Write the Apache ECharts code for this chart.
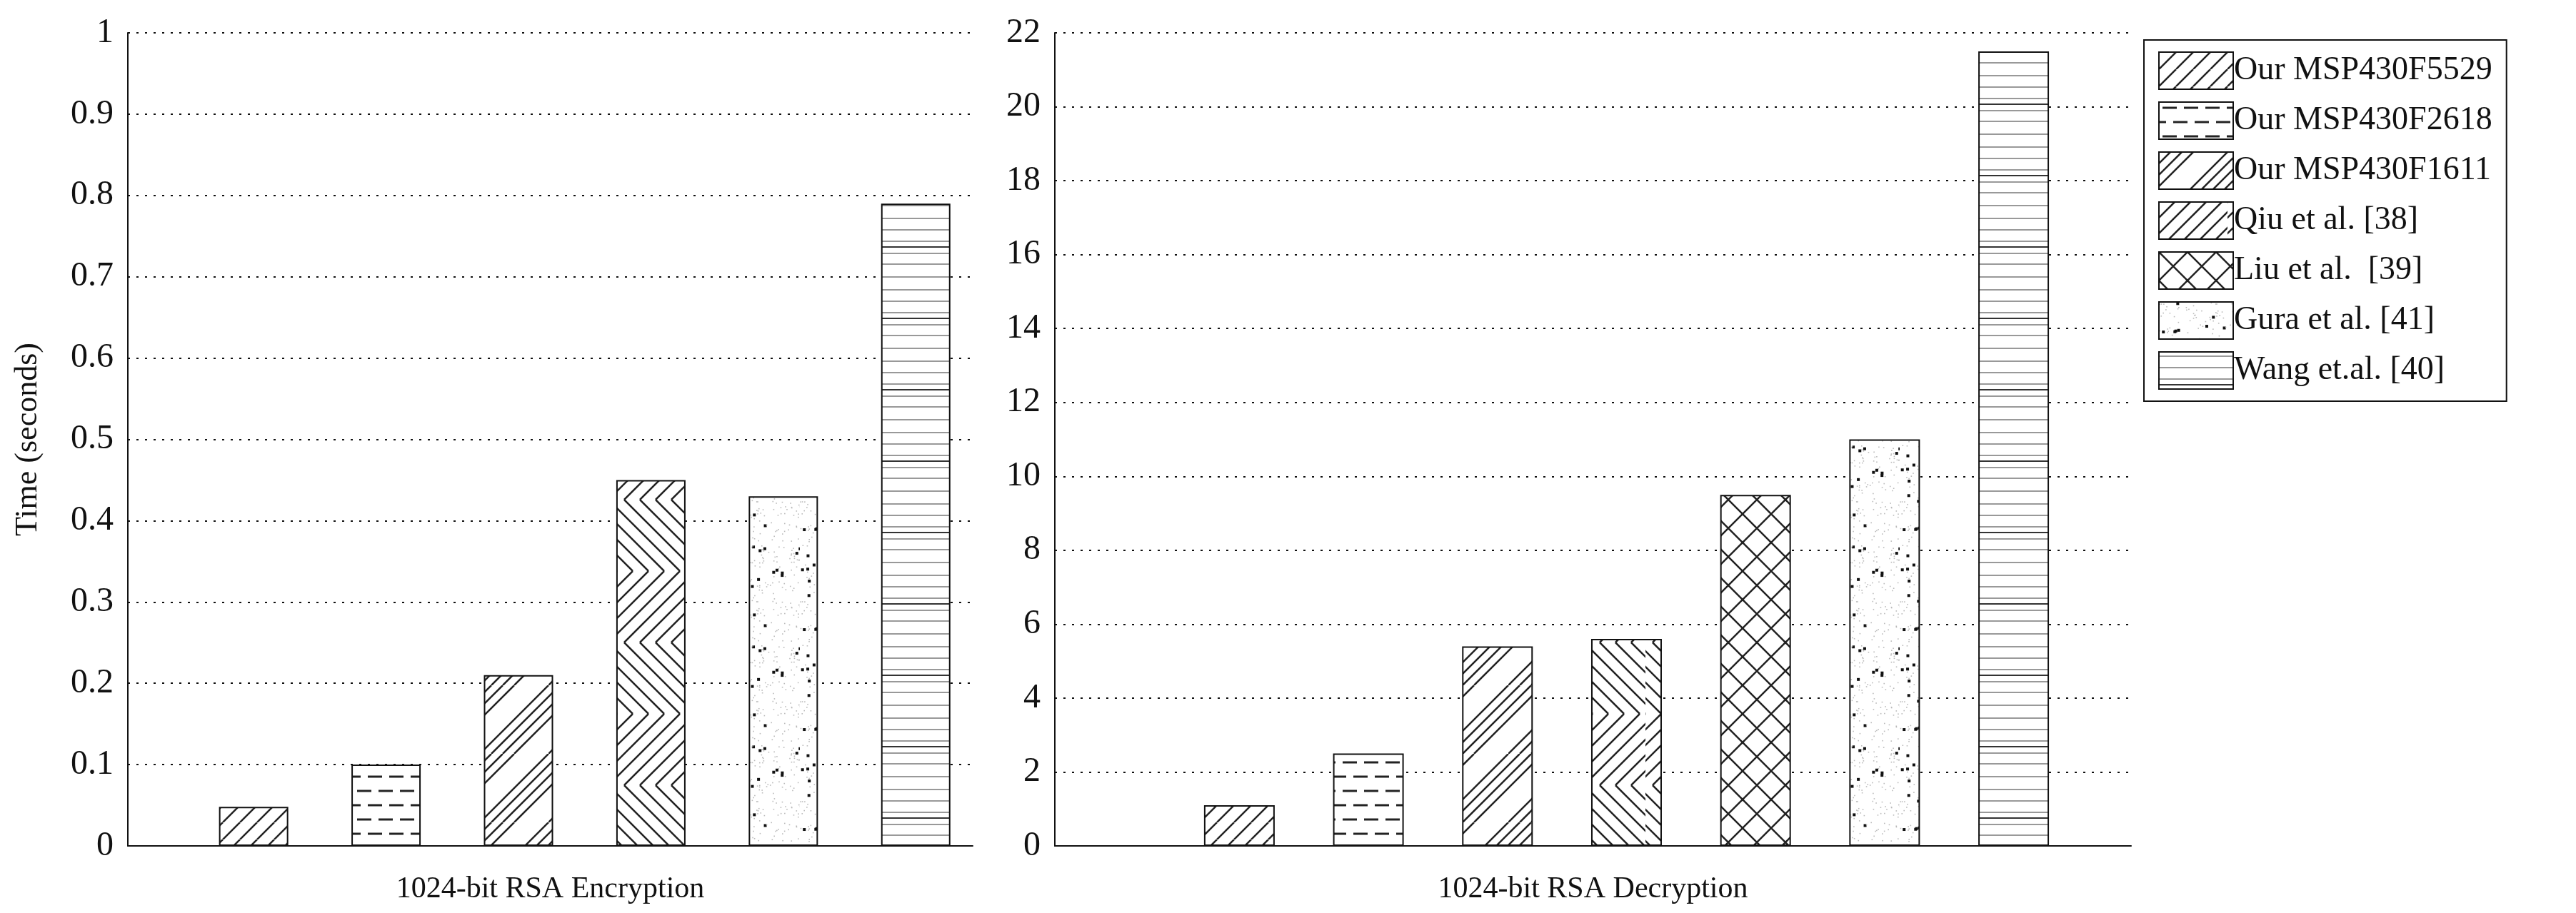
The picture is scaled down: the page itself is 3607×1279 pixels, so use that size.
<!DOCTYPE html>
<html><head><meta charset="utf-8">
<script src="https://cdn.jsdelivr.net/npm/echarts@6/dist/echarts.min.js"></script>
<style>html,body{margin:0;background:#fff}#c{width:3607px;height:1279px}</style>
</head><body><div id="c"></div>
<script>
const seriesNames = ['Our MSP430F5529','Our MSP430F2618','Our MSP430F1611','Qiu et al. [38]','Liu et al.  [39]','Gura et al. [41]','Wang et.al. [40]'];
const encValues = [0.048, 0.10, 0.21, 0.45, null, 0.43, 0.79];
const encPos    = [0, 1, 2, 3, null, 4, 5];
const decValues = [1.1, 2.5, 5.4, 5.6, 9.5, 11.0, 21.5];
const decPos    = [0, 1, 2, 3, 4, 5, 6];
const encTicks = {min:0, max:1, interval:0.1};
const decTicks = {min:0, max:22, interval:2};

function mk(w,h,draw){const c=document.createElement('canvas');c.width=w;c.height=h;const g=c.getContext('2d');g.fillStyle='#fff';g.fillRect(0,0,w,h);g.strokeStyle='#222';g.fillStyle='#222';g.lineWidth=2.5;draw(g,w,h);return {image:c,repeat:'repeat'};}
function diag(g,w,h,step,dir){for(let k=-h;k<w+h;k+=step){g.beginPath();if(dir>0){g.moveTo(k,h);g.lineTo(k+h,0);}else{g.moveTo(k,0);g.lineTo(k+h,h);}g.stroke();}}
function hash(i){let x=Math.sin(i*12.9898+78.233)*43758.5453;return x-Math.floor(x);}
const pats = [
 mk(24,24,(g,w,h)=>diag(g,w,h,24,1)),
 mk(60,40,(g)=>{g.lineWidth=3;[[5,8],[35,8],[20,28],[50,28],[-10,28]].forEach(p=>{g.beginPath();g.moveTo(p[0],p[1]);g.lineTo(p[0]+20,p[1]);g.stroke();});}),
 mk(96,96,(g,w,h)=>{for(const o of [0,16,32,48]){g.beginPath();g.moveTo(o,h);g.lineTo(o+h,0);g.stroke();g.beginPath();g.moveTo(o-96,h);g.lineTo(o,0);g.stroke();}}),
 mk(96,200,(g,w,h)=>{g.save();g.beginPath();g.rect(0,0,w,100);g.clip();diag(g,w,100,22,1);g.restore();g.save();g.beginPath();g.rect(0,100,w,100);g.clip();g.translate(0,100);diag(g,w,100,22,-1);g.restore();}),
 mk(40,40,(g,w,h)=>{g.lineWidth=2.5;g.beginPath();g.moveTo(0,0);g.lineTo(40,40);g.moveTo(40,0);g.lineTo(0,40);g.stroke();}),
 mk(140,140,(g)=>{for(let i=0;i<260;i++){const x=hash(i)*140,y=hash(i+1000)*140;const big=i%9==0;g.fillStyle=big?'#111':'#bbb';const r=big?4:1.6;g.fillRect(x,y,r,r);}}),
 mk(20,100,(g)=>{g.strokeStyle='#999';g.lineWidth=2;[6,22,38,55,70,88].forEach(y=>{g.beginPath();g.moveTo(0,y);g.lineTo(20,y);g.stroke();});g.strokeStyle='#333';g.beginPath();g.moveTo(0,46);g.lineTo(20,46);g.stroke();})
];

const font = 'Liberation Serif';
const series = [];
seriesNames.forEach((n,i)=>{
  const st = {color:pats[i], borderColor:'#111', borderWidth:2};
  series.push({type:'bar',name:n,xAxisIndex:0,yAxisIndex:0,barWidth:97,barGap:'-100%',itemStyle:st,
    data: encValues[i]==null?[]:[[encPos[i],encValues[i]]]});
  series.push({type:'bar',name:n,xAxisIndex:1,yAxisIndex:1,barWidth:99,barGap:'-100%',itemStyle:st,
    data:[[decPos[i],decValues[i]]]});
});
const yCommon = {type:'value',axisLine:{show:true,onZero:false,lineStyle:{color:'#111',width:2}},axisTick:{show:false},
  splitLine:{lineStyle:{type:[3,9],color:'#111',width:2}},axisLabel:{color:'#111',fontFamily:font,fontSize:48,margin:20}};
const xCommon = {type:'value',axisLine:{show:true,onZero:false,lineStyle:{color:'#111',width:2}},axisTick:{show:false},
  splitLine:{show:false},axisLabel:{show:false},nameLocation:'middle',nameGap:40,nameTextStyle:{color:'#111',fontFamily:font,fontSize:42}};
const chart = echarts.init(document.getElementById('c'));
chart.setOption({
  backgroundColor:'#fff', animation:false,
  grid:[{left:179,width:1183,top:46,height:1139},{left:1477,width:1507,top:46,height:1139}],
  xAxis:[Object.assign({},xCommon,{gridIndex:0,min:-0.95,max:5.43,name:'1024-bit RSA Encryption'}),
         Object.assign({},xCommon,{gridIndex:1,min:-1.43,max:6.91,name:'1024-bit RSA Decryption'})],
  yAxis:[Object.assign({},yCommon,{gridIndex:0},encTicks,{name:'Time (seconds)',nameLocation:'middle',nameGap:118,nameTextStyle:{color:'#111',fontFamily:font,fontSize:44}}),
         Object.assign({},yCommon,{gridIndex:1},decTicks)],
  legend:{orient:'vertical',left:3002,top:56,data:seriesNames,icon:'rect',itemWidth:104,itemHeight:52,itemGap:16,padding:[16,20,16,20],
    borderColor:'#111',borderWidth:2,backgroundColor:'#fff',textStyle:{color:'#111',fontFamily:font,fontSize:46,padding:[0,0,0,-4]}},
  series
});
</script></body></html>
